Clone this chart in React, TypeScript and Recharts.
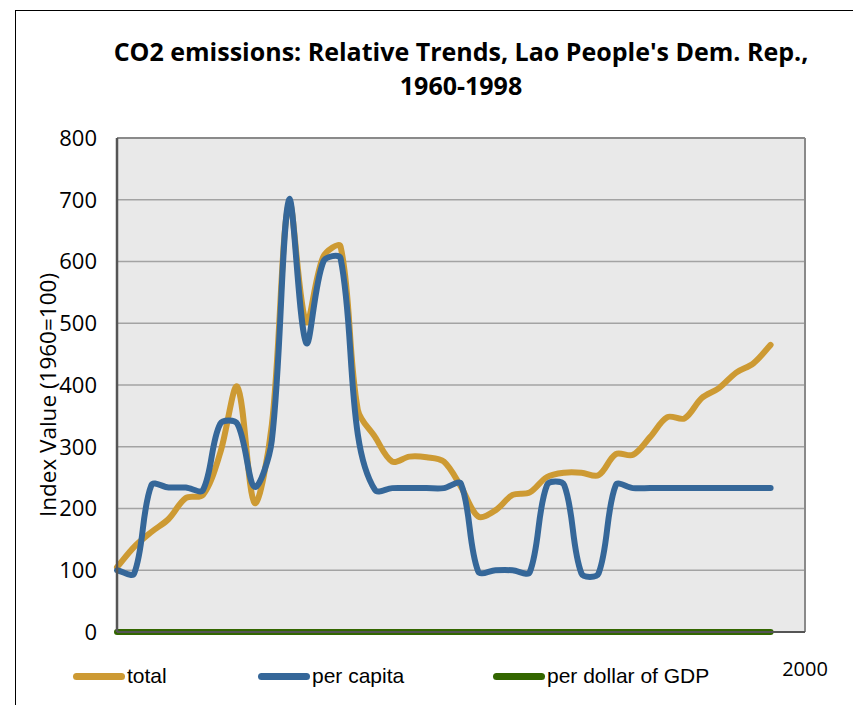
import { LineChart, Line, XAxis, YAxis, CartesianGrid, ReferenceLine } from 'recharts'

const years = [
  1960, 1961, 1962, 1963, 1964, 1965, 1966, 1967, 1968, 1969,
  1970, 1971, 1972, 1973, 1974, 1975, 1976, 1977, 1978, 1979,
  1980, 1981, 1982, 1983, 1984, 1985, 1986, 1987, 1988, 1989,
  1990, 1991, 1992, 1993, 1994, 1995, 1996, 1997, 1998,
]

const total = [
  105, 138, 162, 183, 217, 222, 290, 397, 209, 335,
  695, 502, 608, 624, 360, 316, 276, 284, 283, 276,
  235, 187, 197, 222, 226, 251, 258, 258, 254, 288,
  287, 316, 348, 346, 379, 395, 420, 435, 465,
]

const perCapita = [
  100, 95, 238, 234, 234, 230, 337, 337, 235, 310,
  700, 468, 600, 605, 320, 230, 233, 233, 233, 233,
  240, 98, 100, 100, 97, 238, 238, 95, 95, 238,
  233, 233, 233, 233, 233, 233, 233, 233, 233,
]

const perGdp = [
  0, 0, 0, 0, 0, 0, 0, 0, 0, 0,
  0, 0, 0, 0, 0, 0, 0, 0, 0, 0,
  0, 0, 0, 0, 0, 0, 0, 0, 0, 0,
  0, 0, 0, 0, 0, 0, 0, 0, 0,
]

const yTicks = [0, 100, 200, 300, 400, 500, 600, 700, 800]

const data = years.map((year, i) => ({
  year,
  total: total[i],
  perCapita: perCapita[i],
  perGdp: perGdp[i],
}))

const ORANGE = '#cd9a33'
const BLUE = '#356799'
const GREEN = '#336600'

// excel-like smoothing: tangents weighted by neighbouring segment lengths
function smooth(context: any) {
  let pts: number[][] = []
  const dist = (a: number[], b: number[]) => Math.hypot(b[0] - a[0], b[1] - a[1])
  return {
    areaStart() {},
    areaEnd() {},
    lineStart() {
      pts = []
    },
    point(x: number, y: number) {
      pts.push([+x, +y])
    },
    lineEnd() {
      if (!pts.length) return
      const n = pts.length
      const outArm: number[][] = []
      const inArm: number[][] = []
      for (let i = 0; i < n; i++) {
        const p0 = pts[i - 1] || pts[i]
        const p1 = pts[i]
        const p2 = pts[i + 1] || pts[i]
        const d01 = dist(p0, p1)
        const d12 = dist(p1, p2)
        const s = d01 + d12 || 1
        const tx = p2[0] - p0[0]
        const ty = p2[1] - p0[1]
        outArm.push([(tx * d12) / s / 3, (ty * d12) / s / 3])
        inArm.push([(tx * d01) / s / 3, (ty * d01) / s / 3])
      }
      context.moveTo(pts[0][0], pts[0][1])
      for (let i = 0; i < n - 1; i++) {
        const p1 = pts[i]
        const p2 = pts[i + 1]
        context.bezierCurveTo(
          p1[0] + outArm[i][0],
          p1[1] + outArm[i][1],
          p2[0] - inArm[i + 1][0],
          p2[1] - inArm[i + 1][1],
          p2[0],
          p2[1]
        )
      }
    },
  }
}

const legendItems = [
  { label: 'total', color: ORANGE, x: 73 },
  { label: 'per capita', color: BLUE, x: 258 },
  { label: 'per dollar of GDP', color: GREEN, x: 493 },
]

export default function App() {
  return (
    <div
      style={{
        position: 'absolute',
        left: 0,
        top: 0,
        width: 853,
        height: 705,
        overflow: 'hidden',
        background: '#fff',
      }}
    >
      <div
        style={{
          position: 'absolute',
          left: 15,
          top: 10,
          width: 900,
          height: 800,
          border: '1.5px solid #000',
        }}
      />
      <div
        style={{
          position: 'absolute',
          left: 0,
          top: 34,
          width: 922,
          textAlign: 'center',
          fontFamily: 'Open Sans',
          fontWeight: 700,
          fontSize: 25,
          lineHeight: '34px',
          color: '#000',
        }}
      >
        CO2 emissions: Relative Trends, Lao People's Dem. Rep.,
        <br />
        1960-1998
      </div>
      <div
        style={{
          position: 'absolute',
          left: 47,
          top: 395,
          transform: 'translate(-50%, -50%) rotate(-90deg)',
          whiteSpace: 'nowrap',
          fontFamily: 'Open Sans',
          fontSize: 22.5,
          color: '#000',
        }}
      >
        Index Value (1960=100)
      </div>
      <LineChart
        width={853}
        height={705}
        data={data}
        margin={{ top: 138, right: 48, bottom: 0, left: 0 }}
        style={{ position: 'absolute', left: 0, top: 0 }}
      >
        <CartesianGrid vertical={false} stroke="#a3a3a3" strokeWidth={1.5} fill="#e9e9e9" />
        <XAxis
          dataKey="year"
          type="number"
          domain={[1960, 2000]}
          ticks={[2000]}
          height={73}
          tickLine={false}
          tickSize={0}
          tickMargin={30}
          axisLine={{ stroke: '#555', strokeWidth: 2 }}
          tick={{ fontFamily: 'Open Sans', fontSize: 20, fill: '#000' }}
        />
        <YAxis
          domain={[0, 800]}
          ticks={yTicks}
          width={117}
          tickLine={false}
          tickSize={0}
          tickMargin={20}
          axisLine={{ stroke: '#555', strokeWidth: 2.5 }}
          tick={{ fontFamily: 'Open Sans', fontSize: 22, fill: '#000' }}
        />
        <ReferenceLine x={2000} stroke="#8a8a8a" strokeWidth={2} />
        <ReferenceLine y={800} stroke="#8a8a8a" strokeWidth={2} />
        <Line
          dataKey="total"
          type={smooth as any}
          stroke={ORANGE}
          strokeWidth={6}
          strokeLinecap="round"
          dot={false}
          isAnimationActive={false}
        />
        <Line
          dataKey="perCapita"
          type={smooth as any}
          stroke={BLUE}
          strokeWidth={6}
          strokeLinecap="round"
          dot={false}
          isAnimationActive={false}
        />
        <Line
          dataKey="perGdp"
          type={smooth as any}
          stroke={GREEN}
          strokeWidth={6}
          strokeLinecap="round"
          dot={false}
          isAnimationActive={false}
        />
      </LineChart>
      {legendItems.map((it) => (
        <div
          key={it.label}
          style={{
            position: 'absolute',
            left: it.x,
            top: 664,
            display: 'flex',
            alignItems: 'center',
            fontFamily: 'Liberation Sans',
            fontSize: 21,
            color: '#000',
          }}
        >
          <span
            style={{
              display: 'inline-block',
              width: 52,
              height: 7,
              borderRadius: 4,
              background: it.color,
            }}
          />
          <span style={{ marginLeft: 2 }}>{it.label}</span>
        </div>
      ))}
    </div>
  )
}
